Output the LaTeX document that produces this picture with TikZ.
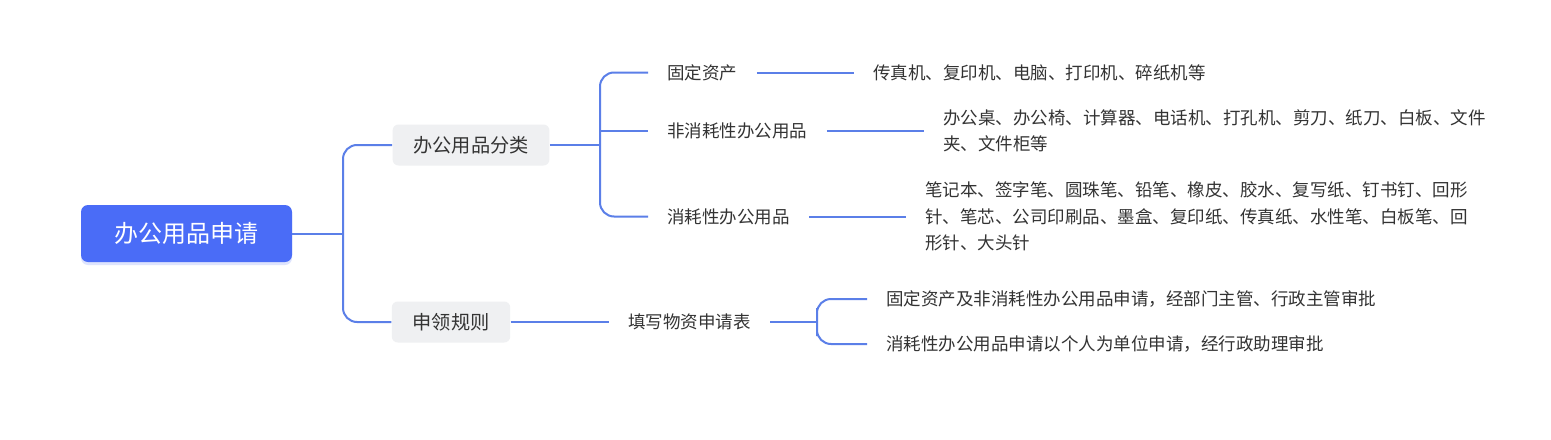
\documentclass[tikz,border=0pt]{standalone}
\usepackage{fontspec}
\newfontfamily\cjk{Noto Sans CJK SC}
\usepackage{tikz}
\usetikzlibrary{shadows}

\definecolor{wurzelblau}{HTML}{4A6CF7}
\definecolor{linienblau}{HTML}{5B7FE8}
\definecolor{kastengrau}{HTML}{EFF0F2}
\definecolor{schriftgrau}{HTML}{333333}

\begin{document}
\begin{tikzpicture}[x=0.5pt,y=-0.5pt,
    wurzelbox/.style={fill=wurzelblau, text=white, rounded corners=3.5pt,
        font=\cjk\fontsize{12}{14}\selectfont, inner xsep=16.75pt, inner ysep=0pt,
        minimum height=28.5pt,
        drop shadow={shadow xshift=0pt, shadow yshift=-1.5pt, opacity=0.18, fill=wurzelblau}},
    klassebox/.style={fill=kastengrau, text=schriftgrau, rounded corners=3pt,
        font=\cjk\fontsize{9.6}{12}\selectfont, inner xsep=10.4pt, inner ysep=0pt,
        minimum height=20.5pt},
    stufe/.style={anchor=west, text=schriftgrau, inner xsep=9.5pt,
        font=\cjk\fontsize{8.75}{13.25}\selectfont},
    blatt/.style={stufe, align=left},
    ast/.style={draw=linienblau, line width=1pt, rounded corners=7pt}]

% Hintergrund
\fill[white] (0,0) rectangle (1551,439);

% Wurzel
\node[wurzelbox] (antrag) at (186.5,233.5) {办公用品申请};

% Hauptaeste
\node[klassebox] (klassen) at (471,145) {办公用品分类};
\node[klassebox] (regeln) at (451,322) {申领规则};

\coordinate (gabel1) at (343,233.5);
\draw[ast] (antrag.east) -- (gabel1);
\draw[ast] (klassen.west) -| (gabel1) |- (regeln.west);

% Unteraeste Klassen
\node[stufe] (fest) at (648,72.5) {固定资产};
\node[stufe] (nichtverbr) at (648,131) {非消耗性办公用品};
\node[stufe] (verbr) at (648,216.5) {消耗性办公用品};

\coordinate (gabel2) at (600,145);
\draw[ast] (klassen.east) -- (gabel2);
\draw[ast] (fest.west) -| (gabel2) |- (verbr.west);
\draw[ast] (gabel2 |- nichtverbr.west) -- (nichtverbr.west);

% Blaetter Klassen
\node[blatt] (festliste) at (854,72.5) {传真机、复印机、电脑、打印机、碎纸机等};
\node[blatt] (nichtverbrliste) at (924,131)
    {办公桌、办公椅、计算器、电话机、打孔机、剪刀、纸刀、白板、文件\\夹、文件柜等};
\node[blatt] (verbrliste) at (906,216.5)
    {笔记本、签字笔、圆珠笔、铅笔、橡皮、胶水、复写纸、钉书钉、回形\\
     针、笔芯、公司印刷品、墨盒、复印纸、传真纸、水性笔、白板笔、回\\
     形针、大头针};

\draw[ast] (fest.east) -- (festliste.west);
\draw[ast] (nichtverbr.east) -- (nichtverbrliste.west);
\draw[ast] (verbr.east) -- (verbrliste.west);

% Unteraeste Regeln
\node[stufe] (formular) at (609,322) {填写物资申请表};
\draw[ast] (regeln.east) -- (formular.west);

\node[blatt] (regel1) at (867,299) {固定资产及非消耗性办公用品申请，经部门主管、行政主管审批};
\node[blatt] (regel2) at (867,344) {消耗性办公用品申请以个人为单位申请，经行政助理审批};

\coordinate (gabel3) at (817,322);
\draw[ast] (formular.east) -- (gabel3);
\draw[ast] (regel1.west) -| (gabel3) |- (regel2.west);

\end{tikzpicture}
\end{document}
